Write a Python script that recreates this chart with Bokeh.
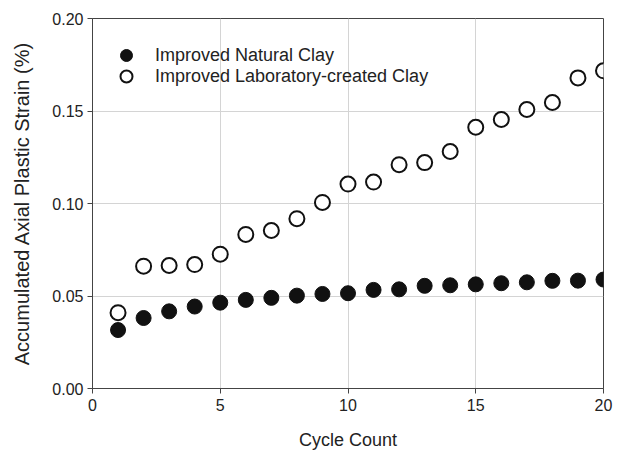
from bokeh.plotting import figure
from bokeh.models import Legend, LegendItem, FixedTicker, PrintfTickFormatter, ColumnDataSource
from bokeh.embed import file_html
from bokeh.resources import INLINE

cycles = list(range(1, 21))
natural_clay = [0.0316, 0.0381, 0.0417, 0.0443, 0.0464, 0.0479, 0.0490, 0.0502, 0.0511, 0.0515,
                0.0533, 0.0536, 0.0555, 0.0558, 0.0563, 0.0569, 0.0574, 0.0582, 0.0583, 0.0589]
lab_clay = [0.0410, 0.0661, 0.0665, 0.0670, 0.0726, 0.0833, 0.0854, 0.0918, 0.1006, 0.1105,
            0.1116, 0.1210, 0.1221, 0.1281, 0.1412, 0.1454, 0.1508, 0.1546, 0.1679, 0.1717]
x_ticks = [0, 5, 10, 15, 20]
y_ticks = [0.0, 0.05, 0.10, 0.15, 0.20]
series_names = ["Improved Natural Clay", "Improved Laboratory-created Clay"]

FONT = "Liberation Sans"
TXT = "#222222"
LINE = "#444444"

p = figure(width=630, height=453, output_backend="svg", toolbar_location=None,
           x_range=(0, 20), y_range=(0, 0.20),
           min_border_left=92, min_border_right=27, min_border_top=18, min_border_bottom=65)

p.outline_line_color = LINE
p.outline_line_width = 1
p.background_fill_color = "white"
p.border_fill_color = "white"

for ax in (p.xaxis[0], p.yaxis[0]):
    ax.axis_line_color = LINE
    ax.major_tick_line_color = LINE
    ax.minor_tick_line_color = None
    ax.major_tick_in = 0
    ax.major_tick_out = 5
    ax.major_label_text_font = FONT
    ax.major_label_text_font_size = "16px"
    ax.major_label_text_color = TXT
    ax.axis_label_text_font = FONT
    ax.axis_label_text_font_style = "normal"
    ax.axis_label_text_color = TXT

p.xaxis.ticker = FixedTicker(ticks=x_ticks)
p.yaxis.ticker = FixedTicker(ticks=y_ticks)
p.yaxis.formatter = PrintfTickFormatter(format="%.2f")
p.xaxis.major_label_standoff = 5
p.yaxis.major_label_standoff = 4
p.xaxis.axis_label = "Cycle Count"
p.yaxis.axis_label = "Accumulated Axial Plastic Strain (%)"
p.xaxis.axis_label_text_font_size = "18px"
p.yaxis.axis_label_text_font_size = "20px"
p.xaxis.axis_label_standoff = 16
p.yaxis.axis_label_standoff = 16

p.xgrid.ticker = FixedTicker(ticks=x_ticks)
p.ygrid.ticker = FixedTicker(ticks=y_ticks)
p.grid.grid_line_color = "#d4d4d4"
p.grid.grid_line_width = 1

src = ColumnDataSource(dict(x=cycles, nat=natural_clay, lab=lab_clay))

r_nat = p.scatter("x", "nat", source=src, size=15, marker="circle",
                  fill_color="#111111", line_color="#111111", line_width=1)
r_lab = p.scatter("x", "lab", source=src, size=15, marker="circle",
                  fill_color="white", line_color="#111111", line_width=2)

# frame height = 453 - 18 - 65 = 370; legends placed from frame bottom-left
for name, rend, loc in [(series_names[0], r_nat, (19, 318)),
                        (series_names[1], r_lab, (19, 297))]:
    lg = Legend(items=[LegendItem(label=name, renderers=[rend])],
                location=loc, margin=0, padding=0, spacing=0,
                glyph_height=30, glyph_width=30, label_standoff=14,
                label_text_font=FONT, label_text_font_size="18px", label_text_color=TXT,
                background_fill_alpha=0, border_line_alpha=0)
    p.add_layout(lg)

open("out.html", "w").write(file_html(p, INLINE))
